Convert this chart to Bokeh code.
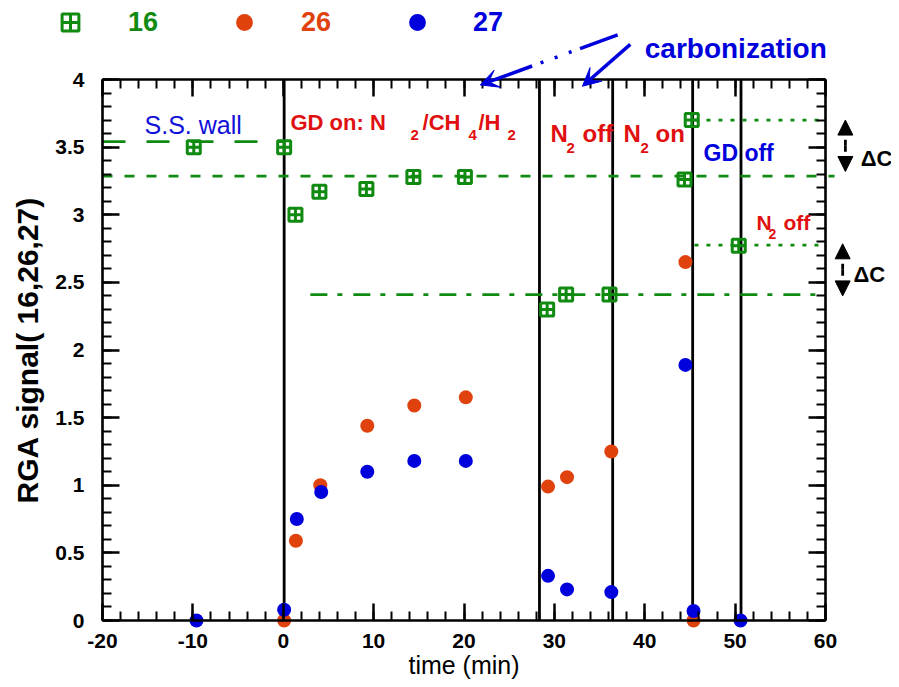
from bokeh.plotting import figure
from bokeh.models import (Range1d, SingleIntervalTicker, PrintfTickFormatter, LinearAxis,
                          Label, Arrow, VeeHead, NormalHead, Legend, LegendItem)
from bokeh.embed import file_html
from bokeh.resources import INLINE

# ---------------- data ----------------
t16 = [-9.9, 0.1, 1.35, 4.0, 9.2, 14.4, 20.1, 29.2, 31.3, 36.1, 44.4, 45.2, 50.4]
s16 = [3.50, 3.50, 3.00, 3.17, 3.19, 3.28, 3.28, 2.30, 2.41, 2.41, 3.26, 3.70, 2.77]

t26 = [0.1, 1.4, 4.1, 9.3, 14.5, 20.2, 29.3, 31.4, 36.3, 44.5, 45.4]
s26 = [0.0, 0.59, 1.00, 1.44, 1.59, 1.65, 0.99, 1.06, 1.25, 2.65, 0.0]

t27 = [-9.6, 0.1, 1.5, 4.2, 9.3, 14.5, 20.2, 29.3, 31.4, 36.3, 44.5, 45.4, 50.6]
s27 = [0.0, 0.08, 0.75, 0.95, 1.10, 1.18, 1.18, 0.33, 0.23, 0.21, 1.89, 0.07, 0.0]

event_t = [0.1, 28.35, 36.45, 45.3, 50.65]

# reference levels: (y, x_start, x_end)
lvl_long = (3.54, -20, 0.2)
lvl_dash = (3.285, -20, 61)
lvl_dashdot = (2.41, 3.0, 60)
lvl_dot_hi = (3.70, 45.5, 60)
lvl_dot_lo = (2.775, 45.5, 60)

x_bounds = (-20, 60)
y_bounds = (0, 4)
x_ticks_interval = 10
y_ticks_interval = 0.5

GREEN = "#108a10"
ORANGE = "#e0420e"
BLUE = "#0000dd"
RED = "#e01010"
TBLUE = "#1010d8"
FONT = "Liberation Sans"

# canvas / box geometry (pixels) -- the plotting frame fills the whole canvas,
# and the axes are drawn around the data box at fixed locations
W, H = 891, 679
BOX_L, BOX_R, BOX_T, BOX_B = 102, 825, 79, 620
kx = (BOX_R - BOX_L) / (x_bounds[1] - x_bounds[0])
ky = (BOX_B - BOX_T) / (y_bounds[1] - y_bounds[0])
x_range = Range1d(x_bounds[0] - BOX_L / kx, x_bounds[1] + (W - BOX_R) / kx)
y_range = Range1d(y_bounds[0] - (H - BOX_B) / ky, y_bounds[1] + BOX_T / ky)

p = figure(width=W, height=H, output_backend="svg", toolbar_location=None,
           x_range=x_range, y_range=y_range,
           min_border_left=0, min_border_right=0, min_border_top=0, min_border_bottom=0)
p.title.visible = False
p.outline_line_color = None
p.grid.visible = False
p.background_fill_color = "white"
p.border_fill_color = "white"

def style_axis(ax, interval, show_labels, loc, bounds):
    ax.ticker = SingleIntervalTicker(interval=interval, num_minor_ticks=5)
    ax.fixed_location = loc
    ax.bounds = bounds
    ax.axis_line_width = 2.6
    ax.axis_line_color = "black"
    ax.major_tick_in = 17
    ax.major_tick_out = 0
    ax.minor_tick_in = 9
    ax.minor_tick_out = 0
    ax.major_tick_line_width = 2.5
    ax.minor_tick_line_width = 2
    ax.major_tick_line_color = "black"
    ax.minor_tick_line_color = "black"
    ax.major_label_text_font = FONT
    ax.major_label_text_font_style = "bold"
    ax.major_label_text_font_size = "21px" if show_labels else "0px"
    ax.major_label_text_color = "black" if show_labels else None
    ax.axis_label_text_color = "black"
    ax.formatter = PrintfTickFormatter(format="%g")

xa = p.xaxis[0]
ya = p.yaxis[0]
style_axis(xa, x_ticks_interval, True, y_bounds[0], x_bounds)
style_axis(ya, y_ticks_interval, True, x_bounds[0], y_bounds)
xa.major_label_standoff = 13
ya.major_label_standoff = 18
xa.axis_label = "time (min)"
xa.axis_label_text_font = FONT
xa.axis_label_text_font_style = "normal"
xa.axis_label_text_font_size = "25px"
xa.axis_label_standoff = 0
ya.axis_label = "RGA signal( 16,26,27)"
ya.axis_label_text_font = FONT
ya.axis_label_text_font_style = "bold"
ya.axis_label_text_font_size = "30px"
ya.axis_label_standoff = 8

top = LinearAxis()
style_axis(top, x_ticks_interval, False, y_bounds[1], x_bounds)
p.add_layout(top, "above")
right = LinearAxis()
style_axis(right, y_ticks_interval, False, x_bounds[1], y_bounds)
p.add_layout(right, "right")

# event lines
p.segment(x0=event_t, x1=event_t, y0=[y_bounds[0]] * len(event_t), y1=[y_bounds[1]] * len(event_t),
          line_color="black", line_width=2.8)

# level lines
def level(lv, dash):
    y, a, b = lv
    p.segment(x0=[a], x1=[b], y0=[y], y1=[y], line_color=GREEN, line_width=2.8, line_dash=dash)

level(lvl_long, "23 21")
level(lvl_dash, "10 12")
level(lvl_dashdot, "17 10 5 11")
level(lvl_dot_hi, "4 8")
level(lvl_dot_lo, "4 8")

# data
r16 = p.scatter(t16, s16, marker="square_cross", size=13, fill_color=None,
                line_color=GREEN, line_width=3)
r26 = p.scatter(t26, s26, marker="circle", size=14, fill_color=ORANGE, line_color=None)
r27 = p.scatter(t27, s27, marker="circle", size=14, fill_color=BLUE, line_color=None)

# legends (one per series so each label has its own colour)
GW = 42
def add_legend(label, rend, color, left, standoff):
    lg = Legend(items=[LegendItem(label=label, renderers=[rend])], location=(left, H - 43),
                orientation="horizontal", glyph_width=GW, glyph_height=GW,
                label_standoff=standoff, padding=0, margin=0, spacing=0,
                border_line_color=None, background_fill_alpha=0,
                label_text_font=FONT, label_text_font_size="27px",
                label_text_font_style="bold", label_text_color=color)
    p.add_layout(lg, "center")

add_legend("16", r16, GREEN, 49, 37)
add_legend("26", r26, ORANGE, 223, 36)
add_legend("27", r27, BLUE, 396, 35)

# text annotations
def txt(x, y, s, size, color, bold=True):
    p.add_layout(Label(x=x, y=y, text=s, text_font=FONT, text_font_size=f"{size}px",
                       text_font_style="bold" if bold else "normal", text_color=color,
                       text_baseline="alphabetic", text_align="left"))

txt(-15.35, 3.667, "S.S. wall", 25, TBLUE, bold=False)

txt(0.8, 3.682, "GD on: N", 22, RED)
txt(14.08, 3.586, "2", 15, RED)
txt(15.41, 3.682, "/CH", 22, RED)
txt(20.5, 3.586, "4", 15, RED)
txt(21.6, 3.682, "/H", 22, RED)
txt(24.8, 3.586, "2", 15, RED)

txt(29.57, 3.601, "N", 24, RED)
txt(31.34, 3.497, "2", 15, RED)
txt(33.11, 3.601, "off", 24, RED)
txt(37.65, 3.601, "N", 24, RED)
txt(39.53, 3.497, "2", 15, RED)
txt(41.19, 3.601, "on", 24, RED)

txt(46.5, 3.46, "GD off", 23, BLUE)

txt(52.37, 2.943, "N", 21, RED)
txt(53.69, 2.861, "2", 14, RED)
txt(55.35, 2.943, "off", 21, RED)

txt(40.0, 4.229, "carbonization", 28, BLUE)

txt(63.9, 3.416, "\u0394C", 22, "black")
txt(63.1, 2.558, "\u0394C", 22, "black")

# carbonization arrows
p.add_layout(Arrow(x_start=37.0, y_start=4.33, x_end=21.8, y_end=3.96,
                   line_color=BLUE, line_width=3.5, line_dash="40 9 3 12 3 12 3 9 80",
                   end=VeeHead(size=18, fill_color=BLUE, line_color=BLUE, line_width=1)))
p.add_layout(Arrow(x_start=38.4, y_start=4.26, x_end=33.1, y_end=3.95,
                   line_color=BLUE, line_width=3.5,
                   end=VeeHead(size=18, fill_color=BLUE, line_color=BLUE, line_width=1)))

# delta C double arrows
for (xc, ya_, yb_) in [(62.2, 3.70, 3.32), (61.9, 2.785, 2.40)]:
    mid = (ya_ + yb_) / 2
    for yend in (ya_, yb_):
        p.add_layout(Arrow(x_start=xc, y_start=mid, x_end=xc, y_end=yend,
                           line_color="black", line_width=2.8, line_dash="0 0 6 60",
                           end=NormalHead(size=15, fill_color="black", line_color="black",
                                          line_width=1)))

open("out.html", "w").write(file_html(p, INLINE))
